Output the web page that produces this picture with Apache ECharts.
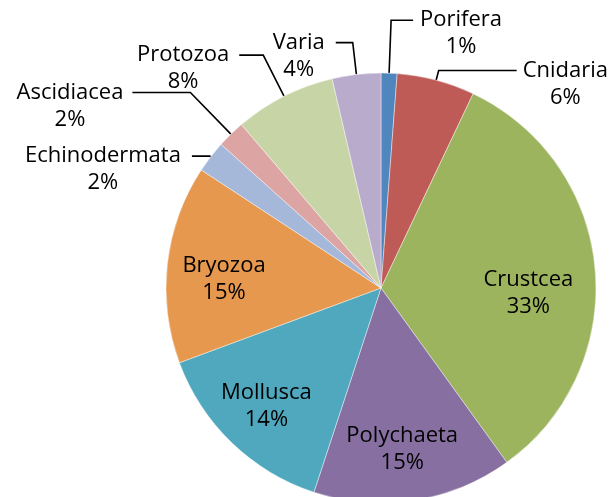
<!DOCTYPE html>
<html>
<head>
<meta charset="utf-8">
<script src="https://cdn.jsdelivr.net/npm/echarts@6/dist/echarts.min.js"></script>
<style>
  html, body { margin: 0; padding: 0; background: #fff; }
  #chart { width: 610px; height: 497px; }
</style>
</head>
<body>
<div id="chart"></div>
<script>
const taxa = ['Porifera', 'Cnidaria', 'Crustcea', 'Polychaeta', 'Mollusca', 'Bryozoa', 'Echinodermata', 'Ascidiacea', 'Protozoa', 'Varia']
const shares = [1.2, 5.85, 33.0, 15.0, 14.3, 14.9, 2.4, 2.1, 7.6, 3.65]
const sliceColors = ['#4f86be', '#be5b57', '#9db45f', '#8770a1', '#4fa8bd', '#e6984f', '#a5b8da', '#dca4a3', '#c7d5a6', '#b9abcb']

// small slices get a leader line, the rest are labelled inside
const leaders = {
  Porifera: { length: 53, length2: 22, gap: 7 },
  Cnidaria: { length: 10, length2: 78, gap: 6 },
  Echinodermata: { length: 1, length2: 18, gap: 11 },
  Ascidiacea: { length: 58, length2: 58, gap: 9 },
  Protozoa: { length: 46, length2: 24, gap: 10 },
  Varia: { length: 32, length2: 17, gap: 11 }
}
// padding tweaks so the inner labels sit where Excel put them
const innerPad = {
  Crustcea: [40, 20, 0, 0],
  Polychaeta: [10, 6, 0, 0],
  Mollusca: [8, 10, 0, 0],
  Bryozoa: [18, 0, 0, 0]
}

const font = {
  fontFamily: '"Open Sans", "Noto Sans", sans-serif',
  fontSize: 22,
  lineHeight: 27,
  color: '#000'
}

const labelText = p => '{c|' + p.name + '}\n{c|' + Math.round(p.percent) + '%}'

const mainData = taxa.map((name, i) => {
  const l = leaders[name]
  return {
    name: name,
    value: shares[i],
    itemStyle: { color: sliceColors[i] },
    label: l ? { show: true, distanceToLabelLine: l.gap } : { show: false },
    labelLine: l ? { show: true, length: l.length, length2: l.length2 } : { show: false }
  }
})

const overlayData = taxa.map((name, i) => ({
  name: name,
  value: shares[i],
  label: leaders[name] ? { show: false } : { show: true, padding: innerPad[name] }
}))

const chart = echarts.init(document.getElementById('chart'))

chart.setOption({
  backgroundColor: '#fff',
  animation: false,
  series: [
    {
      type: 'pie',
      center: [381, 288],
      radius: 215,
      startAngle: 90,
      clockwise: true,
      avoidLabelOverlap: false,
      silent: true,
      labelLayout: { hideOverlap: false },
      itemStyle: {
        borderColor: 'rgba(255,255,255,0.6)',
        borderWidth: 0.7
      },
      label: {
        position: 'outside',
        formatter: labelText,
        padding: [27, 0, 0, 0],
        ...font,
        rich: { c: { align: 'center', ...font } }
      },
      labelLine: {
        lineStyle: { color: '#000', width: 1.6 }
      },
      data: mainData
    },
    {
      // invisible twin, only used to put the inner labels further out
      type: 'pie',
      center: [381, 288],
      radius: 310,
      startAngle: 90,
      clockwise: true,
      silent: true,
      avoidLabelOverlap: false,
      labelLayout: { hideOverlap: false },
      z: 5,
      itemStyle: { color: 'rgba(0,0,0,0)' },
      label: {
        position: 'inside',
        formatter: labelText,
        ...font,
        rich: { c: { align: 'center', ...font } }
      },
      labelLine: { show: false },
      data: overlayData
    }
  ]
})
</script>
</body>
</html>
